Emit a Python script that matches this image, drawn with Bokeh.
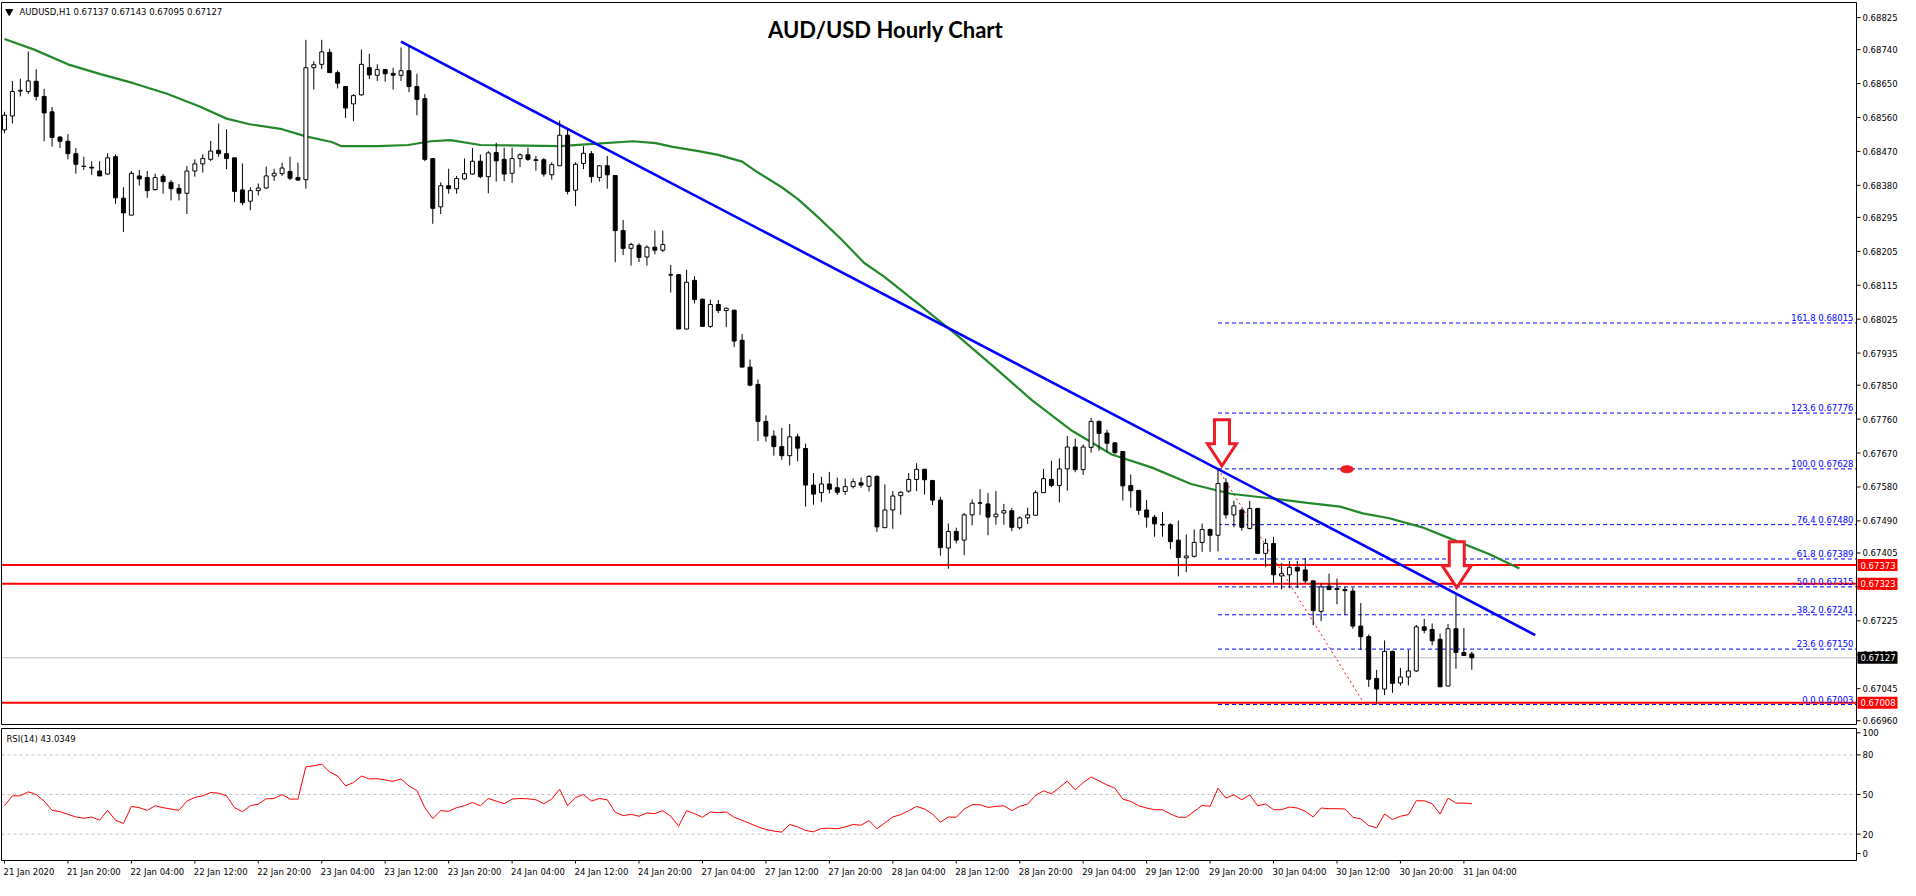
from bokeh.plotting import figure
from bokeh.layouts import column
from bokeh.models import Range1d, Label, ColumnDataSource
from bokeh.embed import file_html
from bokeh.resources import INLINE
from bokeh.core.properties import value

# ---------------- data ----------------
open_ = [0.68527,0.68564,0.68630,0.68629,0.68656,0.68616,0.68575,0.68508,0.68497,0.68464,
         0.68431,0.68428,0.68418,0.68410,0.68456,0.68346,0.68301,0.68405,0.68401,0.68369,
         0.68404,0.68388,0.68372,0.68359,0.68418,0.68437,0.68449,0.68473,0.68464,0.68453,
         0.68368,0.68338,0.68366,0.68373,0.68405,0.68411,0.68417,0.68401,0.68395,0.68692,
         0.68701,0.68733,0.68679,0.68642,0.68596,0.68620,0.68692,0.68672,0.68687,0.68677,
         0.68672,0.68684,0.68642,0.68610,0.68451,0.68323,0.68379,0.68371,0.68397,0.68410,
         0.68444,0.68403,0.68467,0.68449,0.68412,0.68451,0.68461,0.68448,0.68448,0.68408,
         0.68432,0.68513,0.68367,0.68438,0.68464,0.68401,0.68432,0.68406,0.68260,0.68213,
         0.68221,0.68190,0.68216,0.68208,0.68143,0.68143,0.67999,0.68128,0.68078,0.68006,
         0.68064,0.68048,0.68049,0.67969,0.67898,0.67852,0.67754,0.67715,0.67687,0.67663,
         0.67713,0.67682,0.67585,0.67565,0.67588,0.67578,0.67568,0.67581,0.67591,0.67582,
         0.67608,0.67472,0.67519,0.67557,0.67569,0.67600,0.67627,0.67597,0.67545,0.67418,
         0.67462,0.67439,0.67506,0.67538,0.67535,0.67501,0.67511,0.67517,0.67472,0.67498,
         0.67505,0.67565,0.67600,0.67584,0.67628,0.67686,0.67626,0.67685,0.67754,0.67723,
         0.67697,0.67674,0.67584,0.67571,0.67519,0.67500,0.67481,0.67480,0.67439,0.67392,
         0.67396,0.67433,0.67467,0.67452,0.67591,0.67506,0.67519,0.67470,0.67523,0.67404,
         0.67430,0.67344,0.67347,0.67367,0.67360,0.67331,0.67250,0.67317,0.67311,0.67308,
         0.67304,0.67211,0.67183,0.67072,0.67044,0.67144,0.67060,0.67076,0.67092,0.67209,
         0.67202,0.67176,0.67052,0.67204,0.67141,0.67137]
high_ = [0.68575,0.68657,0.68663,0.68735,0.68688,0.68636,0.68588,0.68511,0.68516,0.68479,
         0.68456,0.68444,0.68444,0.68465,0.68462,0.68375,0.68418,0.68421,0.68418,0.68411,
         0.68410,0.68394,0.68384,0.68431,0.68449,0.68462,0.68498,0.68544,0.68529,0.68453,
         0.68438,0.68375,0.68385,0.68430,0.68424,0.68440,0.68456,0.68440,0.68766,0.68709,
         0.68766,0.68742,0.68685,0.68642,0.68622,0.68740,0.68729,0.68701,0.68689,0.68692,
         0.68746,0.68750,0.68676,0.68622,0.68451,0.68388,0.68424,0.68405,0.68451,0.68479,
         0.68462,0.68471,0.68493,0.68480,0.68480,0.68465,0.68480,0.68458,0.68452,0.68441,
         0.68552,0.68529,0.68441,0.68484,0.68471,0.68434,0.68458,0.68406,0.68288,0.68228,
         0.68226,0.68221,0.68260,0.68260,0.68169,0.68145,0.68156,0.68139,0.68080,0.68077,
         0.68076,0.68056,0.68049,0.67986,0.67918,0.67865,0.67770,0.67730,0.67737,0.67747,
         0.67721,0.67695,0.67617,0.67607,0.67620,0.67605,0.67602,0.67602,0.67605,0.67611,
         0.67611,0.67587,0.67569,0.67569,0.67617,0.67643,0.67628,0.67599,0.67554,0.67483,
         0.67472,0.67511,0.67547,0.67574,0.67564,0.67569,0.67535,0.67524,0.67502,0.67525,
         0.67571,0.67628,0.67650,0.67656,0.67715,0.67708,0.67693,0.67763,0.67756,0.67732,
         0.67699,0.67674,0.67613,0.67571,0.67545,0.67506,0.67514,0.67484,0.67491,0.67454,
         0.67467,0.67483,0.67470,0.67628,0.67603,0.67543,0.67523,0.67543,0.67525,0.67443,
         0.67448,0.67378,0.67384,0.67384,0.67391,0.67331,0.67325,0.67350,0.67337,0.67315,
         0.67313,0.67272,0.67189,0.67095,0.67173,0.67146,0.67100,0.67148,0.67214,0.67230,
         0.67218,0.67191,0.67217,0.67293,0.67206,0.67143]
low_ = [0.68518,0.68544,0.68616,0.68622,0.68605,0.68497,0.68483,0.68479,0.68449,0.68411,
        0.68421,0.68408,0.68405,0.68408,0.68331,0.68256,0.68301,0.68379,0.68347,0.68366,
        0.68358,0.68340,0.68340,0.68304,0.68403,0.68414,0.68444,0.68456,0.68423,0.68336,
        0.68327,0.68314,0.68353,0.68371,0.68392,0.68405,0.68394,0.68392,0.68371,0.68634,
        0.68688,0.68679,0.68637,0.68559,0.68550,0.68618,0.68662,0.68657,0.68655,0.68634,
        0.68657,0.68627,0.68566,0.68444,0.68278,0.68304,0.68358,0.68358,0.68394,0.68408,
        0.68399,0.68359,0.68390,0.68391,0.68387,0.68428,0.68445,0.68419,0.68403,0.68395,
        0.68432,0.68356,0.68325,0.68423,0.68387,0.68390,0.68371,0.68176,0.68195,0.68167,
        0.68177,0.68167,0.68197,0.68203,0.68096,0.67999,0.67998,0.68067,0.68006,0.68002,
        0.68041,0.68004,0.67951,0.67898,0.67847,0.67702,0.67700,0.67663,0.67652,0.67637,
        0.67648,0.67528,0.67533,0.67540,0.67563,0.67559,0.67559,0.67576,0.67578,0.67568,
        0.67461,0.67472,0.67469,0.67506,0.67565,0.67569,0.67560,0.67532,0.67398,0.67363,
        0.67430,0.67399,0.67478,0.67506,0.67452,0.67480,0.67480,0.67463,0.67467,0.67482,
        0.67504,0.67564,0.67580,0.67539,0.67570,0.67619,0.67612,0.67671,0.67676,0.67673,
        0.67667,0.67544,0.67525,0.67506,0.67472,0.67448,0.67448,0.67415,0.67343,0.67354,
        0.67393,0.67408,0.67408,0.67409,0.67496,0.67473,0.67464,0.67467,0.67402,0.67367,
        0.67322,0.67308,0.67311,0.67312,0.67325,0.67213,0.67224,0.67306,0.67269,0.67241,
        0.67204,0.67148,0.67050,0.67003,0.67028,0.67034,0.67053,0.67054,0.67089,0.67192,
        0.67160,0.67050,0.67052,0.67098,0.67133,0.67095]
close_ = [0.68566,0.68629,0.68632,0.68657,0.68616,0.68572,0.68507,0.68497,0.68464,0.68436,
          0.68430,0.68426,0.68405,0.68453,0.68347,0.68307,0.68412,0.68397,0.68366,0.68401,
          0.68390,0.68371,0.68359,0.68418,0.68437,0.68451,0.68471,0.68464,0.68451,0.68364,
          0.68334,0.68366,0.68373,0.68405,0.68412,0.68426,0.68399,0.68394,0.68692,0.68700,
          0.68734,0.68679,0.68651,0.68585,0.68618,0.68701,0.68673,0.68687,0.68676,0.68672,
          0.68684,0.68642,0.68608,0.68449,0.68319,0.68379,0.68371,0.68398,0.68411,0.68444,
          0.68403,0.68466,0.68445,0.68410,0.68451,0.68461,0.68449,0.68446,0.68410,0.68435,
          0.68513,0.68364,0.68436,0.68465,0.68403,0.68432,0.68408,0.68260,0.68213,0.68223,
          0.68189,0.68216,0.68208,0.68223,0.68142,0.67999,0.68123,0.68077,0.68006,0.68064,
          0.68048,0.68054,0.67967,0.67898,0.67850,0.67754,0.67715,0.67687,0.67663,0.67713,
          0.67683,0.67585,0.67561,0.67588,0.67574,0.67566,0.67581,0.67594,0.67585,0.67608,
          0.67474,0.67519,0.67556,0.67566,0.67600,0.67627,0.67599,0.67545,0.67419,0.67462,
          0.67439,0.67506,0.67537,0.67537,0.67500,0.67508,0.67517,0.67473,0.67498,0.67506,
          0.67565,0.67602,0.67584,0.67628,0.67686,0.67626,0.67686,0.67754,0.67722,0.67696,
          0.67671,0.67583,0.67570,0.67518,0.67500,0.67482,0.67479,0.67435,0.67393,0.67397,
          0.67433,0.67467,0.67452,0.67589,0.67506,0.67530,0.67473,0.67523,0.67404,0.67430,
          0.67347,0.67350,0.67367,0.67357,0.67331,0.67252,0.67315,0.67308,0.67308,0.67305,
          0.67211,0.67183,0.67070,0.67044,0.67144,0.67059,0.67076,0.67092,0.67209,0.67200,
          0.67172,0.67050,0.67204,0.67141,0.67133,0.67127]
rsi_vals = [41.5,49,49,52,50,45,38,37,35,33,32,33,30.5,38,30.5,28,41,40,38,41.5,
            40,39,38,45,47.75,49,51.5,51,49,40,37,41.5,42.75,46.75,47,50,46.5,46.5,71,71.75,
            73,67,64,56.5,59,64,61.75,62,61,60,61.75,56.5,53,40,31.75,37.75,37.25,40,41.5,44,
            41.5,47,45,43,46.5,47,46.75,46,43,46.5,54,41.5,47.75,50,45,47,46,36.5,34,35,
            33.5,36,35.5,37.75,33.5,26,37.75,35.5,32.75,36.75,36.25,36.75,32.75,30.5,28,25.5,23.5,22.25,21.5,27.25,
            25.5,22.75,21.75,24.25,24.5,24,25.5,27.25,26.75,30.25,24,28.5,33,34.75,37.75,41,39,35.25,29,33,
            32.75,39,42.25,42.25,40.25,41,41.5,37.75,41,42.75,49.25,52.75,50.5,55.25,60.25,53.5,59,63.25,60.25,57.25,
            54.75,46.5,44.75,41.5,39.75,38.5,38.5,35.25,32.75,32.75,37.25,41.75,41,54.75,47.25,49.75,46,49.75,41.5,42.75,
            38.5,38.5,40.5,39.75,37.25,33,39.75,39.25,39.25,39,32.75,31.5,26.5,24.75,35.25,31,33.5,34.75,45.25,45.25,
            43,35.25,47.25,43.5,43.5,43.03]
ma_bar = [0, 3.75, 8, 12.1, 16.25, 20.5, 24.6, 28, 30.9, 35, 38, 41.25, 42.5, 47.1, 50.9,
          53.75, 56.25, 60, 70, 74.25, 79.25, 82.1, 84.25, 87.5, 90, 93, 95, 98, 100, 102.5,
          105.5, 108.4, 110.9, 115.5, 120, 124.6, 129.6, 134.6, 139.6, 144.6, 149.6, 154.6, 160,
          164.25, 168.4, 171.25, 174.6, 178.75, 183, 187.1, 191]
ma_price = [0.68768, 0.68740, 0.68701, 0.68675, 0.68651, 0.68623, 0.68589, 0.68557, 0.68542,
            0.68529, 0.68510, 0.68495, 0.68484, 0.68484, 0.68487, 0.68497, 0.68500, 0.68487,
            0.68484, 0.68490, 0.68497, 0.68492, 0.68482, 0.68471, 0.68461, 0.68443, 0.68414,
            0.68375, 0.68344, 0.68297, 0.68237, 0.68174, 0.68138, 0.68061, 0.67984, 0.67901,
            0.67809, 0.67729, 0.67666, 0.67632, 0.67588, 0.67562, 0.67549, 0.67538, 0.67528,
            0.67510, 0.67497, 0.67473, 0.67437, 0.67403, 0.67364]
tick_bars = [0, 8, 16, 24, 32, 40, 48, 56, 64, 72, 80, 88, 96, 104, 112, 120, 128, 136,
             144, 152, 160, 168, 176, 184]
tick_labels = ["21 Jan 2020", "21 Jan 20:00", "22 Jan 04:00", "22 Jan 12:00", "22 Jan 20:00",
               "23 Jan 04:00", "23 Jan 12:00", "23 Jan 20:00", "24 Jan 04:00", "24 Jan 12:00",
               "24 Jan 20:00", "27 Jan 04:00", "27 Jan 12:00", "27 Jan 20:00", "28 Jan 04:00",
               "28 Jan 12:00", "28 Jan 20:00", "29 Jan 04:00", "29 Jan 12:00", "29 Jan 20:00",
               "30 Jan 04:00", "30 Jan 12:00", "30 Jan 20:00", "31 Jan 04:00"]
price_ticks = [0.68825, 0.68740, 0.68650, 0.68560, 0.68470, 0.68380, 0.68295, 0.68205,
               0.68115, 0.68025, 0.67935, 0.67850, 0.67760, 0.67670, 0.67580, 0.67490,
               0.67405, 0.67315, 0.67225, 0.67135, 0.67045, 0.66960]
rsi_tick_pos = [5.25, 20, 50, 80, 96.75]
rsi_tick_labels = ["0", "20", "50", "80", "100"]
rsi_levels = [80, 50, 20]
fib_ratio = ["0.0", "23.6", "38.2", "50.0", "61.8", "76.4", "100.0", "123.6", "161.8"]
fib_price = [0.67003, 0.67150, 0.67241, 0.67315, 0.67389, 0.67480, 0.67628, 0.67776, 0.68015]
fib_start_bar = 153
level_prices = [0.67373, 0.67323, 0.67008]
bid_price = 0.67127
trend_bar = [50, 193]
trend_price = [0.68761, 0.67187]
fibdiag_bar = [153, 171.5]
fibdiag_price = [0.67628, 0.67003]
arrow_bar = [153.5, 183.1]
arrow_price = [0.67632, 0.67309]
dot_bar = [169.25]
dot_price = [0.67627]
symbol_header = "AUDUSD,H1  0.67137 0.67143 0.67095 0.67127"
rsi_header = "RSI(14) 43.0349"
title_text = "AUD/USD Hourly Chart"

# ---------------- layout constants ----------------
X0, X1 = -0.375, 233.5          # chart area in bar units
Y0, Y1 = 0.66950, 0.68865       # chart area in price units
W = 1900
CH_L, CH_W = 1, 1855            # chart area in pixels (left, width)
MAIN_H, MAIN_TOP, MAIN_FH = 726, 2, 722
RSI_H, RSI_TOP, RSI_FH = 154, 2, 132
FONT = "DejaVu Sans"
FS = "8.5px"

xpp = (X1 - X0) / CH_W
ypp = (Y1 - Y0) / MAIN_FH
rpp = 100.0 / RSI_FH
xr = Range1d(X0 - CH_L * xpp, X0 + (W - CH_L) * xpp)
bars = list(range(len(open_)))


def make_fig(h, yr):
    f = figure(width=W, height=h, x_range=xr, y_range=yr, output_backend="svg",
               toolbar_location=None, x_axis_location=None, y_axis_location=None,
               min_border_left=0, min_border_right=0, min_border_top=0, min_border_bottom=0)
    f.grid.visible = False
    f.outline_line_color = None
    f.background_fill_color = "white"
    f.border_fill_color = "white"
    return f


def frame_box(f, ylo, yhi):
    f.segment(x0=[X0, X0, X0, X1], y0=[yhi, ylo, ylo, ylo],
              x1=[X1, X1, X0, X1], y1=[yhi, ylo, yhi, yhi],
              line_color="black", line_width=1)


# ================= main price panel =================
main = make_fig(MAIN_H, Range1d(Y0 - (MAIN_H - MAIN_TOP - MAIN_FH) * ypp, Y1 + MAIN_TOP * ypp))

# bid line and horizontal red levels (stop at the price axis)
main.segment(x0=[X0], y0=[bid_price], x1=[X1], y1=[bid_price], line_color="#C0C0C0", line_width=1)
main.segment(x0=[X0] * len(level_prices), y0=level_prices, x1=[X1] * len(level_prices),
             y1=level_prices, line_color="#FF0000", line_width=2)

# fibonacci levels
fib_src = ColumnDataSource(dict(
    x0=[fib_start_bar] * len(fib_price), x1=[X1] * len(fib_price), y=fib_price,
    xt=[X1 - 3 * xpp] * len(fib_price),
    txt=[f"{r} {p:.5f}" for r, p in zip(fib_ratio, fib_price)]))
main.segment(x0="x0", y0="y", x1="x1", y1="y", source=fib_src,
             line_color="#0000FF", line_width=1, line_dash="4 3")
main.text(x="xt", y="y", text="txt", source=fib_src, text_align="right",
          text_baseline="bottom", text_font=value(FONT), text_font_size=FS,
          text_color="#0000FF")
main.line(fibdiag_bar, fibdiag_price, line_color="#FF0000", line_width=1, line_dash="2 3")

# moving average and trendline
main.line(ma_bar, ma_price, line_color="#22882A", line_width=2.2)
main.line(trend_bar, trend_price, line_color="#0000FF", line_width=2.6)

# candles
top = [max(o, c) for o, c in zip(open_, close_)]
bot = [min(o, c) for o, c in zip(open_, close_)]
fill = ["white" if c >= o else "black" for o, c in zip(open_, close_)]
csrc = ColumnDataSource(dict(x=bars, h=high_, l=low_, top=top, bot=bot, fill=fill))
main.segment(x0="x", y0="l", x1="x", y1="h", source=csrc, line_color="black", line_width=1)
main.vbar(x="x", top="top", bottom="bot", width=0.5, source=csrc,
          fill_color="fill", line_color="black", line_width=1)

# red arrows (outline in screen pixels, anchored at the data tip)
shape = [(0, 0), (-14.5, 22), (-7.5, 22), (-7.5, 46), (7.5, 46), (7.5, 22), (14.5, 22)]
axs = [[b + dx * xpp for dx, dy in shape] for b in arrow_bar]
ays = [[p + (dy + 1.5) * ypp for dx, dy in shape] for p in arrow_price]
main.patches(axs, ays, fill_color="white", line_color="#EE1C25", line_width=3,
             line_join="miter")
main.ellipse(x=dot_bar, y=dot_price, width=13, height=7, width_units="screen",
             height_units="screen", fill_color="#EE1C25", line_color="#EE1C25")

# frame and price axis (drawn by hand so the axis boxes can sit outside the chart area)
frame_box(main, Y0, Y1)
n = len(price_ticks)
main.segment(x0=[X1] * n, y0=price_ticks, x1=[X1 + 4 * xpp] * n, y1=price_ticks,
             line_color="black", line_width=1)
main.text(x=[X1 + 6 * xpp] * n, y=price_ticks, text=[f"{t:.5f}" for t in price_ticks],
          text_align="left", text_baseline="middle", text_font=value(FONT),
          text_font_size=FS, text_color="black")
box_prices = level_prices + [bid_price]
box_colors = ["#FF0000"] * len(level_prices) + ["black"]
main.rect(x=[X1 + 21 * xpp] * len(box_prices), y=box_prices, width=40, height=12,
          width_units="screen", height_units="screen", fill_color=box_colors, line_color=None)
main.text(x=[X1 + 4 * xpp] * len(box_prices), y=box_prices,
          text=[f"{t:.5f}" for t in box_prices], text_align="left", text_baseline="middle",
          text_font=value(FONT), text_font_size=FS, text_color="white")

# header texts
main.scatter(x=[0.6], y=[Y1 - 9 * ypp], marker="inverted_triangle", size=7,
             fill_color="black", line_color="black")
main.add_layout(Label(x=1.9, y=Y1 - 9 * ypp, text=symbol_header, text_font=FONT,
                      text_font_size=FS, text_baseline="middle", text_color="black"))
main.add_layout(Label(x=111.1, y=Y1 - 27 * ypp, text=title_text, text_font="Lato",
                      text_font_size="22px", text_font_style="bold", text_align="center",
                      text_baseline="alphabetic", text_color="black"))

# ================= RSI panel =================
rsi = make_fig(RSI_H, Range1d(0 - (RSI_H - RSI_TOP - RSI_FH) * rpp, 100 + RSI_TOP * rpp))
rsi.segment(x0=[X0] * len(rsi_levels), y0=rsi_levels, x1=[X1] * len(rsi_levels), y1=rsi_levels,
            line_color="#C0C0C0", line_width=1, line_dash="3 3")
rsi.line(bars, rsi_vals, line_color="#FF0000", line_width=1)
frame_box(rsi, 0, 100)

m = len(rsi_tick_pos)
rsi.segment(x0=[X1] * m, y0=rsi_tick_pos, x1=[X1 + 4 * xpp] * m, y1=rsi_tick_pos,
            line_color="black", line_width=1)
rsi.text(x=[X1 + 6 * xpp] * m, y=rsi_tick_pos, text=rsi_tick_labels, text_align="left",
         text_baseline="middle", text_font=value(FONT), text_font_size=FS, text_color="black")

k = len(tick_bars)
rsi.segment(x0=tick_bars, y0=[0] * k, x1=tick_bars, y1=[-3 * rpp] * k,
            line_color="black", line_width=1)
rsi.text(x=[b - 1 * xpp for b in tick_bars], y=[-11 * rpp] * k, text=tick_labels,
         text_align="left", text_baseline="middle", text_font=value(FONT),
         text_font_size=FS, text_color="black")
rsi.add_layout(Label(x=0.25, y=92, text=rsi_header, text_font=FONT, text_font_size=FS,
                     text_baseline="middle", text_color="black"))

layout = column(main, rsi, spacing=0)
open("out.html", "w").write(file_html(layout, INLINE))
